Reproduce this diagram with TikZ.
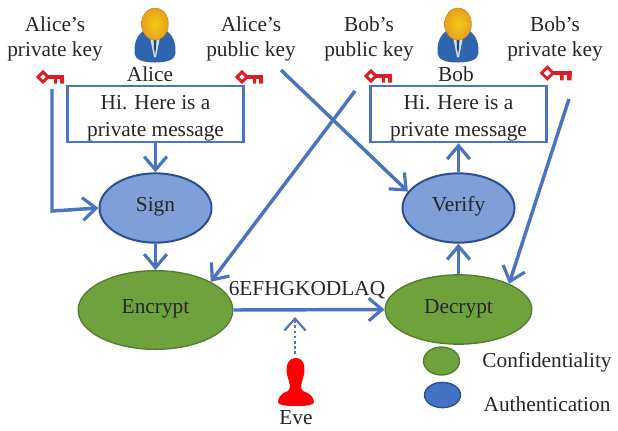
\documentclass[tikz,border=0pt]{standalone}
\usepackage{fontspec}
\setmainfont{Liberation Serif}
\usetikzlibrary{arrows.meta,shapes.geometric}
\definecolor{linkblue}{HTML}{4A74C0}
\definecolor{ovalblue}{HTML}{7E9FD8}
\definecolor{ovalline}{HTML}{2B4E8C}
\definecolor{ovalgreen}{HTML}{6FA13C}
\definecolor{greenline}{HTML}{4F7F2A}
\definecolor{legendblue}{HTML}{4472C4}
\definecolor{keyred}{HTML}{D81F26}
\definecolor{skin}{HTML}{E8A020}
\definecolor{suit}{HTML}{2F65AE}
\tikzset{
  x=0.75pt,y=-0.75pt,
  label text/.style={font=\fontsize{16}{19}\selectfont,text=black!85,inner sep=0pt,align=center},
  link/.style={draw=linkblue,line width=2.6pt,-{Straight Barb[length=10pt,width=17pt,line width=2.4pt]}},
  plainbox/.style={draw=linkblue,line width=1.9pt,minimum width=132pt,minimum height=42pt,inner sep=0pt},
  blueoval/.style={ellipse,draw=ovalline,fill=ovalblue,line width=1.5pt,minimum width=84pt,minimum height=52pt,inner sep=0pt,
    font=\fontsize{16}{19}\selectfont,text=black!85,text height=5.5pt,text depth=0pt},
  greenoval/.style={ellipse,draw=greenline,fill=ovalgreen,line width=1pt,inner sep=0pt,
    font=\fontsize{16}{19}\selectfont,text=black!85,text height=5.5pt,text depth=0pt},
  keypic/.pic={
    \draw[keyred,line width=2.2pt,fill=white] (-9,0) -- (-4,-5) -- (1,0) -- (-4,5) -- cycle;
    \draw[keyred,line width=2.8pt] (1,0) -- (17,0);
    \fill[keyred] (7,0) rectangle (10,6.5) (13,0) rectangle (17,6.5);
  },
  personpic/.pic={
    \fill[suit] (-20.5,28) .. controls (-21,14) and (-14,6) .. (-6,5) -- (6,5) .. controls (14,6) and (21,14) .. (20.5,28)
      .. controls (20.5,36) and (12,38.5) .. (0,38.5) .. controls (-12,38.5) and (-20.5,36) .. (-20.5,28) -- cycle;
    \fill[white!80!suit] (-6,8) -- (6,8) -- (1,33) -- (-1,33) -- cycle;
    \fill[suit!70!black] (-1.5,13) -- (1.5,13) -- (1,24) -- (0,31) -- (-1,24) -- cycle;
    \shade[inner color=skin!55!yellow,outer color=skin,draw=skin!80!black,line width=0.3pt] (0,0) ellipse (13.5 and 16);
  }
}
\begin{document}
\begin{tikzpicture}
\useasboundingbox (0,0) rectangle (618,430);
% people
\pic at (155,24) {personpic};
\pic at (458,24) {personpic};
\fill[red] (296,358) .. controls (286,358) and (285,370) .. (288,378) .. controls (290,385) and (291,388) .. (288,391)
  .. controls (282,393) and (278,397) .. (278,402) .. controls (278,405) and (284,406) .. (296,406)
  .. controls (308,406) and (314,405) .. (314,402) .. controls (314,397) and (309,393) .. (303,391)
  .. controls (300,388) and (301,385) .. (303,378) .. controls (306,370) and (305,358) .. (296,358) -- cycle;
% keys
\pic at (47,77) {keypic};
\pic at (246,77) {keypic};
\pic at (375,76) {keypic};
\pic[scale=1.15] at (552,73) {keypic};
% key anchors
\coordinate (alicepriv) at (52,89);
\coordinate (alicepub) at (281,70);
\coordinate (bobpub) at (355,91);
\coordinate (bobpriv) at (569,99);
\coordinate (corner) at (52,211);
\coordinate (tap) at (295,354);
\coordinate (tapend) at (295,317);
% boxes and ovals
\node[plainbox] (amsg) at (155.5,114) {};
\node[plainbox] (bmsg) at (458.5,114) {};
\node[label text] (m1) at (155.5,118) {Hi. Here is a\\[1pt]private message};
\node[label text] (m2) at (458.5,118) {Hi. Here is a\\[1pt]private message};
\node[blueoval] (sign) at (155.5,208) {Sign};
\node[blueoval] (verify) at (458.5,208) {Verify};
\node[greenoval,minimum width=116pt,minimum height=59pt] (encrypt) at (155.5,310) {Encrypt};
\node[greenoval,minimum width=110pt,minimum height=52pt] (decrypt) at (458.5,309.5) {Decrypt};
\node[greenoval,minimum width=27pt,minimum height=21pt] (leggreen) at (441.5,361) {};
\node[ellipse,draw=ovalline,fill=legendblue,line width=1pt,minimum width=27pt,minimum height=19pt,inner sep=0pt] (legblue) at (442.5,395) {};
% labels
\node[label text] (t1) at (55,39) {Alice’s\\private key};
\node[label text] (t2) at (251,39) {Alice’s\\public key};
\node[label text] (t3) at (369,39) {Bob’s\\public key};
\node[label text] (t4) at (555,39) {Bob’s\\private key};
\node[label text] (t5) at (150,74) {Alice};
\node[label text] (t6) at (456,74) {Bob};
\node[label text] (t7) at (307,290) {6EFHGKODLAQ};
\node[label text] (t8) at (296,418) {Eve};
\node[label text] (t9) at (547,362) {Confidentiality};
\node[label text] (t10) at (547,404) {Authentication};
% connectors
\draw[link] (amsg.south) -- (sign.north);
\draw[link] (sign.south) -- (encrypt.north);
\draw[link] (alicepriv) -- (corner) -- (sign.west);
\draw[link] (alicepub) -- (verify.162);
\draw[link] (bobpub) -- (encrypt.27);
\draw[link] (bobpriv) -- (decrypt.27);
\draw[link] (verify.north) -- (bmsg.south);
\draw[link] (decrypt.north) -- (verify.south);
\draw[link] (encrypt.east) -- (decrypt.west);
\draw[draw=linkblue,line width=1.9pt,dotted,-{Straight Barb[length=9pt,width=16pt,line width=1.6pt,line cap=butt]}] (tap) -- (tapend);
\end{tikzpicture}
\end{document}
